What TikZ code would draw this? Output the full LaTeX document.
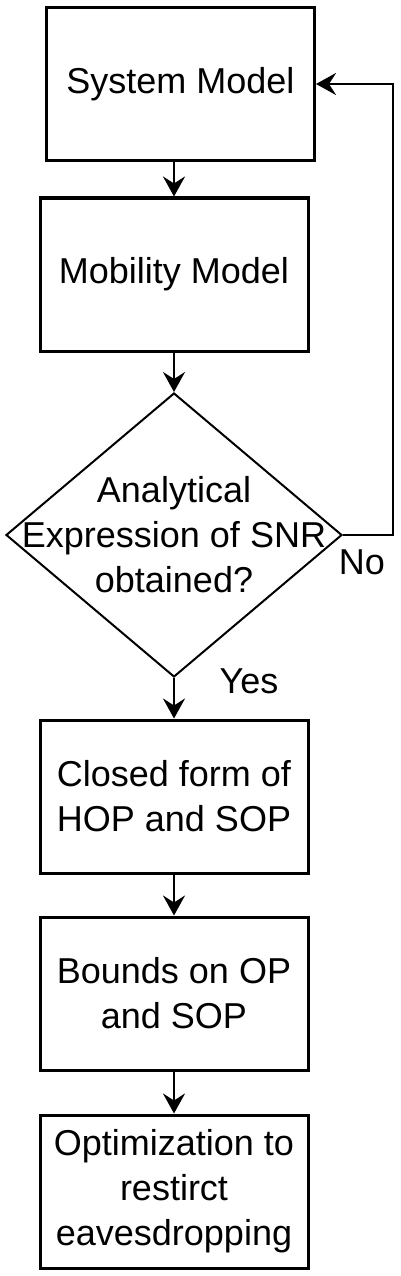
\documentclass[tikz,border=0pt]{standalone}
\usepackage{fontspec}
\setmainfont{Liberation Sans}
\usepackage{tikz}
\usetikzlibrary{positioning,arrows.meta,calc,shapes.geometric}
\definecolor{ink}{HTML}{000000}

\begin{document}
\begin{tikzpicture}[x=1pt, y=-1pt,
    every node/.style={font=\fontsize{36}{45}\selectfont, text=ink},
    stepbox/.style={draw=ink, line width=3pt, minimum width=268pt, minimum height=153pt,
                    align=center, inner sep=0pt},
    decide/.style={draw=ink, diamond, line width=2pt, minimum width=336pt,
                   minimum height=284pt, inner sep=0pt},
    flow/.style={draw=ink, line width=2.5pt, -{Stealth[length=20pt,width=22pt,inset=7pt]}}]
  \useasboundingbox (0,0) rectangle (400,1276);

  \node[stepbox] (sysmodel) at (180.5,84) {System Model};
  \node[stepbox] (mobmodel) at (174,274.5) {Mobility Model};
  \node[decide, label={[align=center]center:Analytical\\Expression of SNR\\obtained?}]
        (snrcheck) at (174,535) {};
  \node[stepbox] (closedform) at (174,796.5) {Closed form of\\HOP and SOP};
  \node[stepbox] (bounds) at (174,993.5) {Bounds on OP\\and SOP};
  \node[stepbox] (optim) at (174,1191.5) {Optimization to\\restirct\\eavesdropping};

  \coordinate (loop) at (393,84);

  \draw[flow] (mobmodel.north |- sysmodel.south) -- (mobmodel.north);
  \draw[flow] (mobmodel.south) -- (snrcheck.north);
  \draw[flow] (snrcheck.south) -- (closedform.north);
  \draw[flow] (closedform.south) -- (bounds.north);
  \draw[flow] (bounds.south) -- (optim.north);
  \draw[flow] (snrcheck.east) -| (loop) -- (sysmodel.east);

  \node (yes) at (249,681) {Yes};
  \node (no) at (362,562) {No};
\end{tikzpicture}
\end{document}
